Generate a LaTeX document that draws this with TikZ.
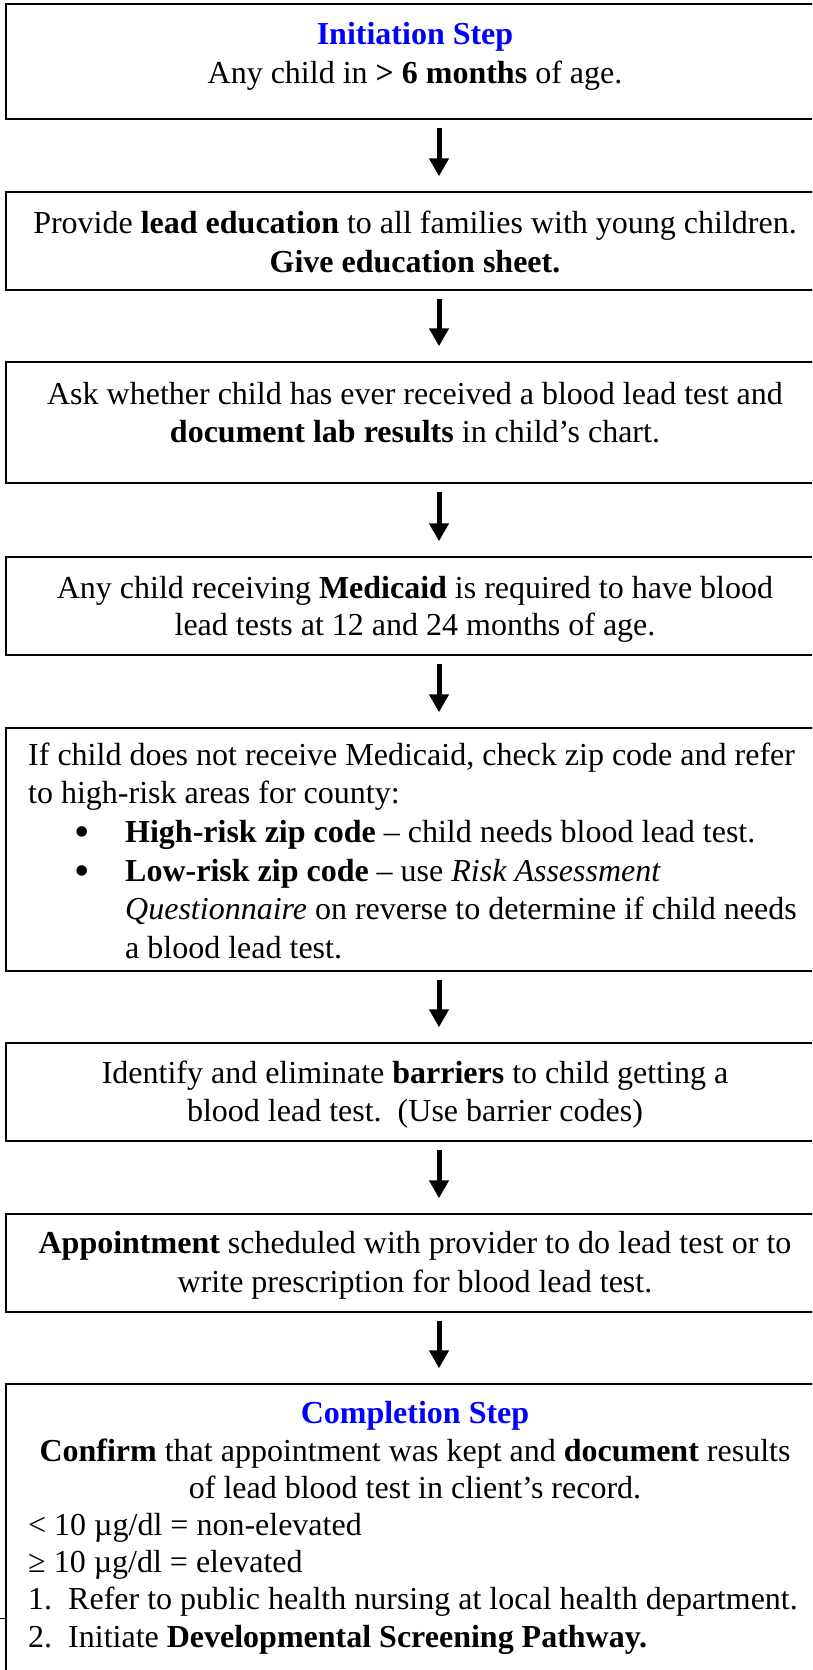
\documentclass[tikz,border=0pt]{standalone}
\usepackage{fontspec}
\setmainfont{Liberation Serif}
\usetikzlibrary{arrows.meta}
\definecolor{steptitle}{RGB}{0,0,255}
\tikzset{
  stepbox/.style={draw=black, line width=1.5pt, rectangle, inner sep=0pt, minimum width=866pt},
  ln/.style={inner sep=0pt, anchor=base, font=\fontsize{32}{38}\selectfont},
  lnl/.style={ln, anchor=base west},
  dot/.style={inner sep=0pt, anchor=base, font=\fontsize{44}{44}\selectfont},
  titleline/.style={ln, text=steptitle, font=\fontsize{32}{38}\selectfont\bfseries},
  flow/.style={line width=5pt, -{Triangle[width=19pt,length=18pt]}, shorten <=8pt, shorten >=15pt},
}
\begin{document}
\begin{tikzpicture}[x=1pt, y=-1pt]
\useasboundingbox (0,0) rectangle (812,1670);
\clip (0,0) rectangle (812,1670);

% step boxes (they run past the right edge of the page)
\node[stepbox, minimum height=115pt] (b1) at (439,61.5) {};
\node[stepbox, minimum height=98pt]  (b2) at (439,241) {};
\node[stepbox, minimum height=121pt] (b3) at (439,422.5) {};
\node[stepbox, minimum height=98pt]  (b4) at (439,606) {};
\node[stepbox, minimum height=243pt] (b5) at (439,849.5) {};
\node[stepbox, minimum height=98pt]  (b6) at (439,1092) {};
\node[stepbox, minimum height=98pt]  (b7) at (439,1263) {};
\node[stepbox, minimum height=316pt] (b8) at (439,1542) {};

% arrows between the steps
\draw[flow] (b1) -- (b2);
\draw[flow] (b2) -- (b3);
\draw[flow] (b3) -- (b4);
\draw[flow] (b4) -- (b5);
\draw[flow] (b5) -- (b6);
\draw[flow] (b6) -- (b7);
\draw[flow] (b7) -- (b8);

% step 1
\node[titleline] (t1a) at (415,45) {Initiation Step};
\node[ln] (t1b) at (415,83) {Any child in \textbf{> 6 months} of age.};
% step 2
\node[ln] (t2a) at (415,233) {Provide \textbf{lead education} to all families with young children.};
\node[ln] (t2b) at (415,272) {\textbf{Give education sheet.}};
% step 3
\node[ln] (t3a) at (415,404) {Ask whether child has ever received a blood lead test and};
\node[ln] (t3b) at (415,442) {\textbf{document lab results} in child’s chart.};
% step 4
\node[ln] (t4a) at (415,598) {Any child receiving \textbf{Medicaid} is required to have blood};
\node[ln] (t4b) at (415,635) {lead tests at 12 and 24 months of age.};
% step 5
\node[lnl] (t5a) at (28,765) {If child does not receive Medicaid, check zip code and refer};
\node[lnl] (t5b) at (28,803) {to high-risk areas for county:};
\node[dot] (t5c) at (82,846) {\smash{•}};
\node[lnl] (t5d) at (125,842) {\textbf{High-risk zip code} – child needs blood lead test.};
\node[dot] (t5e) at (82,885) {\smash{•}};
\node[lnl] (t5f) at (125,881) {\textbf{Low-risk zip code} – use \textit{Risk Assessment}};
\node[lnl] (t5g) at (125,919) {\textit{Questionnaire} on reverse to determine if child needs};
\node[lnl] (t5h) at (125,958) {a blood lead test.};
% step 6
\node[ln] (t6a) at (415,1083) {Identify and eliminate \textbf{barriers} to child getting a};
\node[ln] (t6b) at (415,1121) {blood lead test.\ \ (Use barrier codes)};
% step 7
\node[ln] (t7a) at (415,1253) {\textbf{Appointment} scheduled with provider to do lead test or to};
\node[ln] (t7b) at (415,1292) {write prescription for blood lead test.};
% step 8
\node[titleline] (t8a) at (415,1423) {Completion Step};
\node[ln] (t8b) at (415,1461) {\textbf{Confirm} that appointment was kept and \textbf{document} results};
\node[ln] (t8c) at (415,1498) {of lead blood test in client’s record.};
\node[lnl] (t8d) at (28,1535) {< 10 µg/dl = non-elevated};
\node[lnl] (t8e) at (28,1572) {≥ 10 µg/dl = elevated};
\node[lnl] (t8f) at (28,1609) {\makebox[40pt][l]{1.}Refer to public health nursing at local health department.};
\node[lnl] (t8g) at (28,1647) {\makebox[40pt][l]{2.}Initiate \textbf{Developmental Screening Pathway.}};

% small tick at the left margin
\draw[line width=1pt] (0,1618) -- (6,1618);
\end{tikzpicture}
\end{document}
